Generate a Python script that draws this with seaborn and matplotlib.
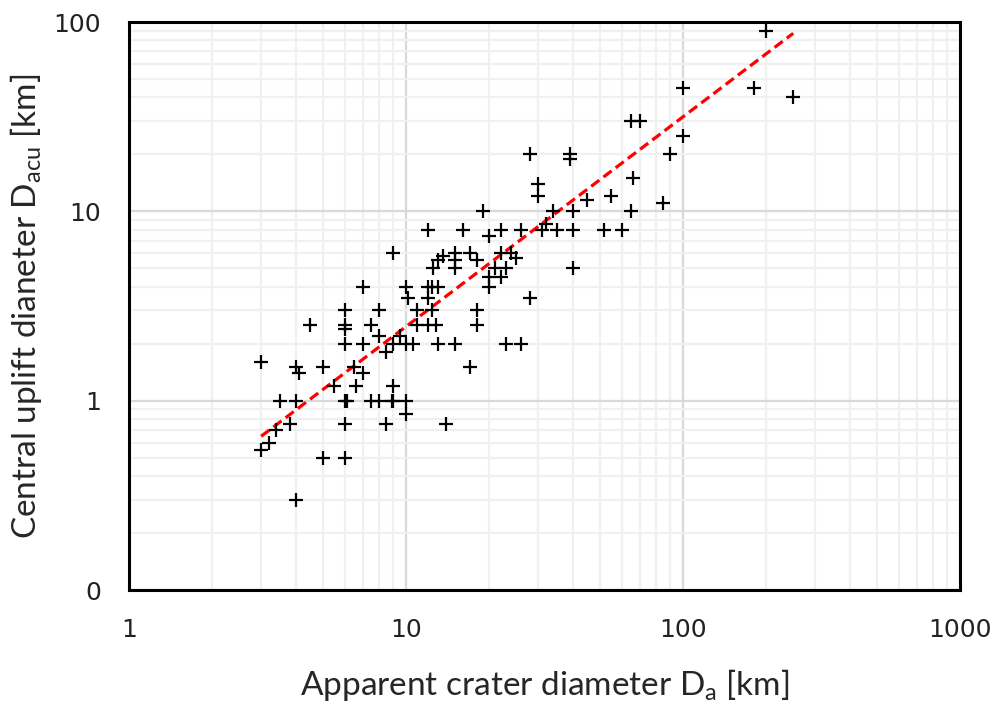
import numpy as np
import pandas as pd
import matplotlib
matplotlib.use("Agg")
import matplotlib.pyplot as plt
import seaborn as sns
from matplotlib.ticker import LogLocator, FixedLocator, FixedFormatter, NullFormatter

# ---- data ----
crater_diam = [3, 4, 4.1, 3.5, 4, 3.4, 3.2, 3, 3.8, 4,
               4.5, 5, 5, 5.5, 6, 6, 6, 6, 6, 6.1,
               6, 6, 6.5, 6.6, 7, 7, 7.5, 7.5, 8, 8,
               8, 8.5, 8.5, 8.9, 9, 10, 10, 9, 9, 9.5,
               10, 10.6, 10, 10.2, 9, 7, 11, 12.4, 11, 12,
               12.8, 13, 15, 12, 12.4, 13, 12, 12.5, 15, 13.6,
               13, 15, 15, 12, 14, 17, 17, 18, 16, 18,
               18, 19, 20, 22, 20, 22, 20, 21, 23, 22,
               24, 25, 23, 26, 26, 28, 39, 39, 30, 30,
               34, 40, 32, 31, 35, 40, 40, 28, 45, 52,
               60, 55, 66, 65, 65, 70, 85, 90, 100, 100,
               180, 200, 250]
uplift_diam = [1.6, 1.5, 1.4, 1.0, 1.0, 0.7, 0.6, 0.55, 0.75, 0.3,
               2.5, 1.5, 0.5, 1.2, 3, 2.5, 2.4, 2, 1, 1,
               0.75, 0.5, 1.5, 1.2, 1.4, 2, 2.5, 1, 1, 3,
               2.2, 1.8, 0.75, 1, 1, 1, 0.85, 1.2, 2, 2.2,
               2, 2, 4, 3.5, 6, 4, 3, 3, 2.5, 2.5,
               2.5, 2, 2, 4, 4, 4, 3.5, 5, 5, 5.8,
               5.5, 6, 5.5, 8, 0.75, 1.5, 6, 5.5, 8, 3,
               2.5, 10, 7.4, 8, 4.5, 4.5, 4, 5, 5, 6,
               6, 5.7, 2, 2, 8, 20, 20, 19, 14, 12,
               10, 10, 8.6, 8, 8, 8, 5, 3.5, 11.5, 8,
               8, 12, 15, 10, 30, 30, 11, 20, 25, 45,
               45, 90, 40]

# power-law trend line  D_acu = a * D_a ** b
fit_a = 0.192
fit_b = 1.108
fit_x_range = [3, 250]

x_ticks = [1, 10, 100, 1000]
x_tick_labels = ["1", "10", "100", "1000"]
y_ticks = [0.1, 1, 10, 100]
y_tick_labels = ["0", "1", "10", "100"]

df = pd.DataFrame({"Da": crater_diam, "Dacu": uplift_diam})
fit_x = np.array(fit_x_range, dtype=float)
fit_df = pd.DataFrame({"x": fit_x, "y": fit_a * fit_x ** fit_b})

sns.set_theme(style="white")
plt.rcParams["font.family"] = ["Lato", "DejaVu Sans"]
plt.rcParams["mathtext.fontset"] = "custom"
plt.rcParams["mathtext.rm"] = "Lato"
plt.rcParams["mathtext.it"] = "Lato:italic"

fig = plt.figure(figsize=(9.92, 7.04), dpi=100)
ax = fig.add_axes([129 / 992, 1 - 590 / 704, (960 - 129) / 992, (590 - 22) / 704])
ax.set_xscale("log")
ax.set_yscale("log")
ax.set_xlim(1, 1000)
ax.set_ylim(0.1, 100)

# grid
ax.xaxis.set_minor_locator(LogLocator(base=10, subs=np.arange(2, 10)))
ax.yaxis.set_minor_locator(LogLocator(base=10, subs=np.arange(2, 10)))
ax.xaxis.set_minor_formatter(NullFormatter())
ax.yaxis.set_minor_formatter(NullFormatter())
ax.grid(which="minor", color="#f0f0f0", linewidth=1.6, zorder=0)
ax.grid(which="major", color="#d9d9d9", linewidth=1.6, zorder=0)
ax.set_axisbelow(True)

sns.lineplot(data=fit_df, x="x", y="y", ax=ax, color="#ff0000",
             linewidth=2.3, zorder=3)
ax.lines[-1].set_dashes((3.2, 1.6))

sns.scatterplot(data=df, x="Da", y="Dacu", ax=ax, marker="+", color="black",
                s=115, linewidth=1.6, zorder=4)

ax.xaxis.set_major_locator(FixedLocator(x_ticks))
ax.xaxis.set_major_formatter(FixedFormatter(x_tick_labels))
ax.yaxis.set_major_locator(FixedLocator(y_ticks))
ax.yaxis.set_major_formatter(FixedFormatter(y_tick_labels))
ax.tick_params(which="both", length=0)
ax.tick_params(axis="x", pad=20, labelsize=18)
ax.tick_params(axis="y", pad=20, labelsize=18)
for lab in ax.get_xticklabels() + ax.get_yticklabels():
    lab.set_fontfamily(["DejaVu Sans"])
    lab.set_color("#222222")

for sp in ax.spines.values():
    sp.set_visible(True)
    sp.set_color("black")
    sp.set_linewidth(2.2)

ax.set_xlabel(r"Apparent crater diameter D$_{\mathrm{a}}$ [km]", fontsize=24, labelpad=18)
ax.set_ylabel(r"Central uplift dianeter D$_{\mathrm{acu}}$ [km]", fontsize=24, labelpad=7)

fig.savefig("out.png", dpi=100)
